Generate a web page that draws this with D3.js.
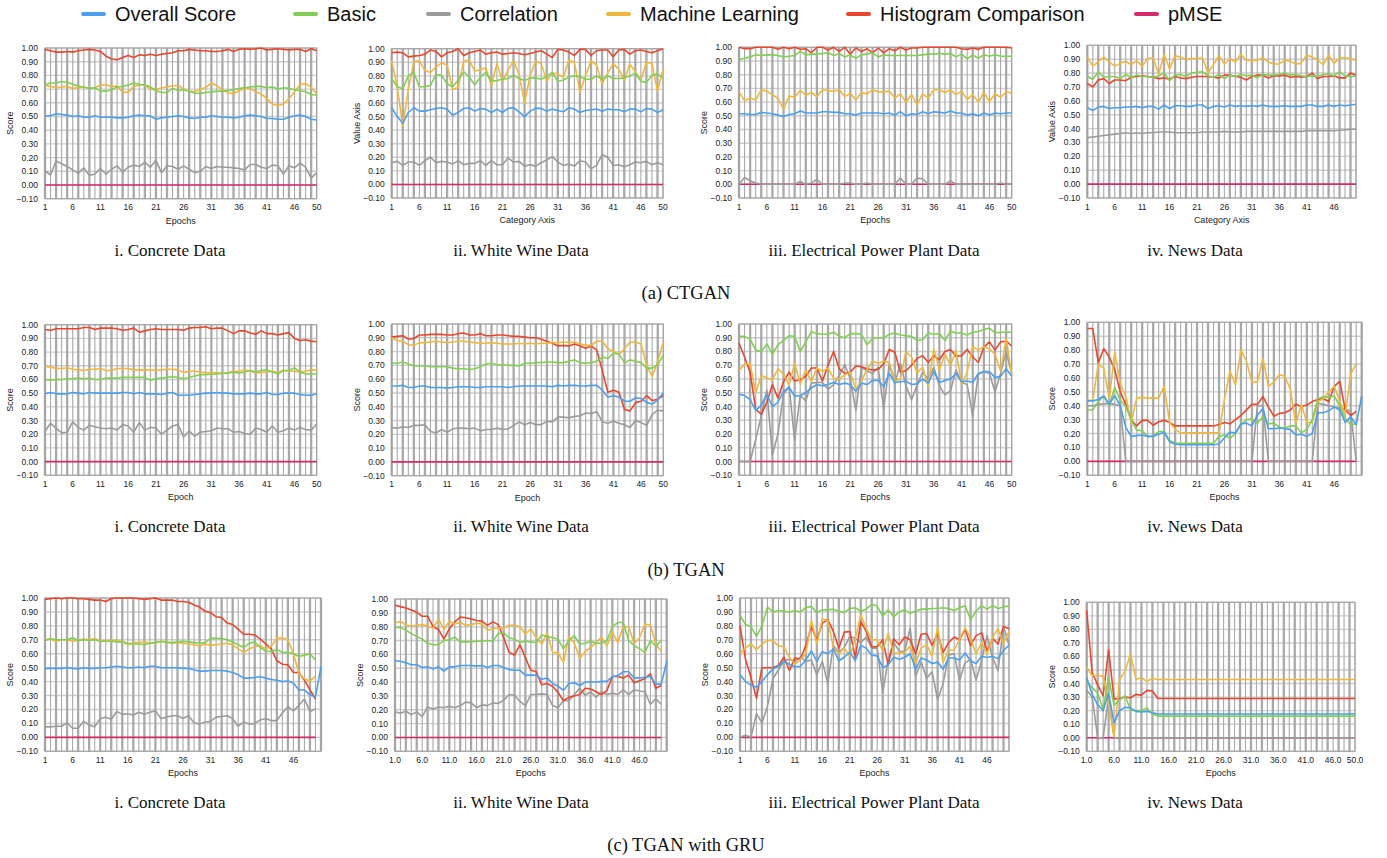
<!DOCTYPE html>
<meta charset="utf-8">
<style>
body { margin: 0; background: #fff; }
svg text { font-family: "Liberation Sans", Arial, Helvetica, sans-serif; fill: #222; }
svg text.serif { font-family: "Liberation Serif", "Times New Roman", serif; fill: #111; }
</style>
<svg width="1387" height="858"></svg>
<script src="https://d3js.org/d3.v7.min.js"></script>
<script>

// ---- legend / series ----
var seriesKeys   = ["overall", "basic", "correlation", "ml", "histogram", "pmse"];
var seriesNames  = ["Overall Score", "Basic", "Correlation", "Machine Learning", "Histogram Comparison", "pMSE"];
var seriesColors = ["#4a9ff0", "#80cf52", "#9b9b9b", "#f0b73c", "#e9462e", "#d42b6b"];
var drawOrder    = ["pmse", "correlation", "histogram", "ml", "basic", "overall"];

var yTicks = [-0.1, 0, 0.1, 0.2, 0.3, 0.4, 0.5, 0.6, 0.7, 0.8, 0.9, 1.0];
var xTickEpochs = [1, 6, 11, 16, 21, 26, 31, 36, 41, 46];

var captions = ["i. Concrete Data", "ii. White Wine Data", "iii. Electrical Power Plant Data", "iv. News Data"];
var groupTitles = ["(a) CTGAN", "(b) TGAN", "(c) TGAN with GRU"];

// ---- data, one object of arrays per panel ----
var ctganConcrete = {
  overall: [0.505,0.505,0.52,0.515,0.51,0.50,0.505,0.495,0.495,0.505,
            0.495,0.495,0.495,0.49,0.49,0.495,0.505,0.51,0.505,0.505,
            0.48,0.49,0.495,0.50,0.505,0.50,0.49,0.485,0.495,0.495,
            0.505,0.50,0.495,0.495,0.49,0.495,0.505,0.51,0.505,0.50,
            0.485,0.485,0.48,0.48,0.495,0.505,0.51,0.50,0.48,0.475],
  basic: [0.73,0.745,0.745,0.755,0.75,0.735,0.72,0.715,0.705,0.71,
          0.685,0.685,0.695,0.715,0.72,0.73,0.745,0.735,0.73,0.715,
          0.69,0.675,0.675,0.705,0.69,0.695,0.685,0.67,0.67,0.675,
          0.68,0.685,0.685,0.69,0.695,0.705,0.71,0.715,0.72,0.72,
          0.71,0.715,0.70,0.71,0.705,0.695,0.69,0.68,0.66,0.655],
  correlation: [0.10,0.075,0.175,0.155,0.135,0.11,0.085,0.125,0.07,0.08,
                0.12,0.08,0.115,0.14,0.095,0.13,0.145,0.135,0.165,0.13,
                0.18,0.09,0.14,0.135,0.115,0.14,0.115,0.09,0.10,0.135,
                0.12,0.135,0.13,0.13,0.125,0.12,0.11,0.15,0.15,0.13,
                0.12,0.145,0.14,0.08,0.14,0.125,0.16,0.13,0.05,0.09],
  ml: [0.725,0.72,0.71,0.715,0.72,0.705,0.71,0.715,0.705,0.71,
       0.73,0.73,0.72,0.72,0.68,0.675,0.72,0.73,0.73,0.70,
       0.695,0.71,0.715,0.725,0.725,0.70,0.685,0.68,0.70,0.71,
       0.745,0.725,0.695,0.675,0.665,0.69,0.705,0.705,0.68,0.665,
       0.63,0.59,0.58,0.59,0.63,0.68,0.735,0.74,0.715,0.665],
  histogram: [0.99,0.98,0.97,0.97,0.975,0.97,0.98,0.985,0.99,0.985,
              0.975,0.94,0.92,0.915,0.93,0.945,0.93,0.95,0.945,0.955,
              0.945,0.955,0.96,0.965,0.98,0.98,0.99,0.985,0.98,0.98,
              0.975,0.975,0.98,0.99,0.975,0.99,0.995,0.99,0.995,1.0,
              0.985,0.99,0.995,0.99,0.985,0.99,0.99,0.975,0.995,0.98],
  pmse: [0,0,0,0,0,0,0,0,0,0, 0,0,0,0,0,0,0,0,0,0, 0,0,0,0,0,0,0,0,0,0, 0,0,0,0,0,0,0,0,0,0, 0,0,0,0,0,0,0,0,0,0]
};

var ctganWine = {
  overall: [0.565,0.50,0.45,0.53,0.565,0.54,0.54,0.55,0.56,0.565,
            0.555,0.51,0.53,0.56,0.565,0.54,0.56,0.555,0.53,0.555,
            0.53,0.56,0.565,0.535,0.50,0.54,0.56,0.56,0.54,0.555,
            0.545,0.535,0.565,0.555,0.53,0.545,0.55,0.555,0.54,0.555,
            0.55,0.55,0.535,0.555,0.555,0.535,0.56,0.555,0.53,0.55],
  basic: [0.78,0.72,0.705,0.80,0.825,0.72,0.72,0.73,0.81,0.805,
          0.74,0.72,0.77,0.83,0.79,0.735,0.79,0.825,0.76,0.765,
          0.775,0.78,0.805,0.78,0.765,0.785,0.785,0.775,0.795,0.825,
          0.76,0.77,0.79,0.80,0.795,0.775,0.775,0.80,0.775,0.80,
          0.78,0.78,0.785,0.80,0.82,0.76,0.75,0.805,0.815,0.785],
  correlation: [0.16,0.17,0.14,0.165,0.165,0.14,0.175,0.20,0.16,0.17,
                0.165,0.15,0.175,0.145,0.155,0.155,0.175,0.14,0.175,0.145,
                0.145,0.195,0.165,0.17,0.135,0.145,0.135,0.16,0.18,0.205,
                0.165,0.14,0.15,0.135,0.175,0.165,0.115,0.14,0.22,0.20,
                0.14,0.145,0.13,0.145,0.165,0.16,0.17,0.145,0.16,0.145],
  ml: [0.91,0.72,0.43,0.70,0.905,0.91,0.84,0.825,0.865,0.895,
       0.88,0.70,0.715,0.91,0.915,0.835,0.845,0.86,0.73,0.89,
       0.76,0.84,0.91,0.81,0.60,0.80,0.91,0.89,0.76,0.82,
       0.815,0.79,0.915,0.90,0.68,0.80,0.91,0.88,0.74,0.82,
       0.89,0.85,0.77,0.885,0.83,0.77,0.90,0.89,0.69,0.845],
  histogram: [0.97,0.975,0.97,0.94,0.945,0.95,0.96,0.99,0.98,0.94,
              0.97,0.98,1.00,0.95,0.97,0.98,0.99,0.96,0.97,0.975,
              0.96,0.965,0.97,0.965,0.955,0.965,0.975,0.985,0.96,0.935,
              0.995,0.99,0.975,0.95,0.995,0.995,0.95,0.985,0.99,0.99,
              0.94,0.99,0.995,0.96,0.985,0.99,0.98,0.97,0.985,1.0],
  pmse: [0,0,0,0,0,0,0,0,0,0, 0,0,0,0,0,0,0,0,0,0, 0,0,0,0,0,0,0,0,0,0, 0,0,0,0,0,0,0,0,0,0, 0,0,0,0,0,0,0,0,0,0]
};

var ctganPower = {
  overall: [0.515,0.515,0.51,0.51,0.525,0.52,0.515,0.505,0.495,0.51,
            0.515,0.535,0.52,0.52,0.52,0.53,0.53,0.525,0.525,0.515,
            0.515,0.505,0.52,0.52,0.52,0.52,0.515,0.52,0.505,0.53,
            0.50,0.515,0.51,0.53,0.515,0.53,0.525,0.52,0.535,0.52,
            0.52,0.505,0.515,0.50,0.52,0.505,0.52,0.515,0.52,0.52],
  basic: [0.91,0.92,0.93,0.945,0.94,0.945,0.945,0.94,0.93,0.935,
          0.94,0.97,0.945,0.95,0.95,0.955,0.96,0.94,0.955,0.93,
          0.945,0.92,0.945,0.95,0.96,0.93,0.945,0.94,0.94,0.94,
          0.94,0.94,0.94,0.945,0.95,0.95,0.955,0.95,0.955,0.93,
          0.95,0.915,0.945,0.92,0.945,0.935,0.945,0.935,0.935,0.935],
  correlation: [0,0.05,0.025,0.01,0,0,0,0,0,0,
                0,0.02,0,0.01,0.035,0,0,0,0,0.01,
                0.01,0,0,0.01,0,0,0,0,0,0.045,
                0,0,0.045,0.04,0,0,0,0,0.025,0,
                0,0,0,0,0,0,0,0.01,0,0],
  ml: [0.675,0.61,0.63,0.615,0.69,0.68,0.655,0.625,0.55,0.645,
       0.635,0.685,0.65,0.67,0.64,0.69,0.685,0.68,0.69,0.64,
       0.665,0.615,0.67,0.66,0.69,0.675,0.675,0.68,0.63,0.66,
       0.60,0.655,0.58,0.66,0.63,0.69,0.69,0.67,0.69,0.655,
       0.68,0.62,0.655,0.60,0.67,0.605,0.66,0.635,0.675,0.665],
  histogram: [1.0,0.99,0.99,1.0,1.0,1.0,1.0,0.985,1.0,0.99,
              1.0,0.985,0.99,0.96,1.0,1.0,0.98,1.0,0.97,1.0,
              0.95,0.995,0.97,0.99,0.96,0.995,0.96,0.99,0.975,1.0,
              0.98,0.995,0.995,1.0,1.0,1.0,1.0,1.0,1.0,1.0,
              0.99,0.985,0.995,0.985,1.0,1.0,1.0,1.0,1.0,0.995],
  pmse: [0,0,0,0,0,0,0,0,0,0, 0,0,0,0,0,0,0,0,0,0, 0,0,0,0,0,0,0,0,0,0, 0,0,0,0,0,0,0,0,0,0, 0,0,0,0,0,0,0,0,0,0]
};

var ctganNews = {
  overall: [0.55,0.53,0.555,0.56,0.545,0.55,0.55,0.555,0.555,0.56,
            0.55,0.56,0.56,0.54,0.57,0.545,0.565,0.565,0.56,0.56,
            0.57,0.57,0.545,0.56,0.565,0.555,0.57,0.56,0.565,0.56,
            0.565,0.56,0.57,0.56,0.56,0.56,0.565,0.56,0.56,0.56,
            0.57,0.57,0.56,0.56,0.57,0.56,0.57,0.565,0.57,0.575],
  basic: [0.775,0.755,0.81,0.77,0.775,0.775,0.76,0.79,0.77,0.785,
          0.775,0.775,0.77,0.78,0.80,0.745,0.785,0.79,0.775,0.80,
          0.805,0.81,0.78,0.77,0.79,0.76,0.785,0.775,0.79,0.78,
          0.785,0.765,0.79,0.785,0.785,0.79,0.80,0.785,0.79,0.78,
          0.775,0.78,0.775,0.79,0.795,0.78,0.81,0.78,0.775,0.78],
  correlation: [0.335,0.34,0.345,0.35,0.355,0.36,0.365,0.37,0.365,0.37,
                0.365,0.37,0.37,0.375,0.375,0.375,0.37,0.37,0.37,0.37,
                0.37,0.375,0.375,0.375,0.375,0.38,0.375,0.375,0.375,0.38,
                0.38,0.38,0.38,0.38,0.38,0.38,0.38,0.38,0.38,0.38,
                0.385,0.385,0.385,0.385,0.385,0.385,0.39,0.39,0.395,0.395],
  ml: [0.915,0.85,0.88,0.915,0.88,0.85,0.87,0.885,0.86,0.89,
       0.85,0.905,0.91,0.79,0.935,0.83,0.925,0.915,0.90,0.905,
       0.905,0.91,0.80,0.86,0.925,0.865,0.905,0.88,0.935,0.89,
       0.89,0.89,0.91,0.88,0.865,0.865,0.895,0.885,0.865,0.87,
       0.93,0.915,0.895,0.86,0.93,0.87,0.91,0.91,0.905,0.89],
  histogram: [0.725,0.70,0.75,0.76,0.725,0.75,0.75,0.745,0.77,0.775,
              0.78,0.775,0.77,0.76,0.765,0.755,0.775,0.765,0.76,0.77,
              0.775,0.775,0.775,0.77,0.765,0.785,0.785,0.775,0.77,0.75,
              0.775,0.785,0.785,0.765,0.78,0.78,0.785,0.77,0.775,0.77,
              0.775,0.80,0.76,0.775,0.775,0.78,0.765,0.765,0.80,0.785],
  pmse: [0,0,0,0,0,0,0,0,0,0, 0,0,0,0,0,0,0,0,0,0, 0,0,0,0,0,0,0,0,0,0, 0,0,0,0,0,0,0,0,0,0, 0,0,0,0,0,0,0,0,0,0]
};

var tganConcrete = {
  overall: [0.495,0.505,0.495,0.495,0.495,0.505,0.50,0.495,0.505,0.50,
            0.50,0.50,0.50,0.50,0.505,0.505,0.495,0.505,0.495,0.495,
            0.495,0.49,0.50,0.505,0.485,0.485,0.485,0.49,0.495,0.50,
            0.50,0.505,0.50,0.50,0.495,0.495,0.495,0.50,0.495,0.495,
            0.505,0.49,0.49,0.50,0.50,0.50,0.49,0.485,0.485,0.495],
  basic: [0.60,0.595,0.60,0.60,0.605,0.605,0.61,0.605,0.61,0.60,
          0.60,0.61,0.61,0.61,0.615,0.615,0.615,0.615,0.615,0.595,
          0.605,0.61,0.615,0.62,0.615,0.605,0.615,0.625,0.635,0.635,
          0.64,0.64,0.645,0.645,0.655,0.645,0.655,0.665,0.655,0.665,
          0.67,0.655,0.64,0.665,0.665,0.685,0.655,0.64,0.64,0.64],
  correlation: [0.22,0.28,0.245,0.21,0.215,0.29,0.25,0.23,0.265,0.255,
                0.245,0.24,0.245,0.23,0.27,0.26,0.215,0.285,0.23,0.25,
                0.245,0.20,0.23,0.26,0.27,0.18,0.225,0.185,0.215,0.22,
                0.225,0.245,0.24,0.24,0.215,0.22,0.205,0.20,0.245,0.235,
                0.215,0.26,0.215,0.225,0.245,0.23,0.25,0.235,0.23,0.275],
  ml: [0.695,0.69,0.68,0.68,0.685,0.675,0.67,0.665,0.675,0.675,
       0.68,0.665,0.665,0.68,0.68,0.68,0.67,0.67,0.67,0.67,
       0.665,0.67,0.675,0.675,0.67,0.65,0.66,0.66,0.655,0.65,
       0.65,0.65,0.645,0.65,0.66,0.66,0.67,0.66,0.65,0.65,
       0.655,0.66,0.65,0.665,0.66,0.66,0.655,0.66,0.67,0.67],
  histogram: [0.965,0.96,0.97,0.97,0.97,0.97,0.97,0.98,0.98,0.965,
              0.975,0.975,0.975,0.97,0.96,0.965,0.975,0.945,0.955,0.965,
              0.97,0.965,0.965,0.965,0.965,0.96,0.975,0.98,0.98,0.985,
              0.97,0.975,0.975,0.955,0.935,0.955,0.955,0.94,0.93,0.955,
              0.935,0.935,0.925,0.935,0.94,0.90,0.885,0.89,0.88,0.875],
  pmse: [0,0,0,0,0,0,0,0,0,0, 0,0,0,0,0,0,0,0,0,0, 0,0,0,0,0,0,0,0,0,0, 0,0,0,0,0,0,0,0,0,0, 0,0,0,0,0,0,0,0,0,0]
};

var tganWine = {
  overall: [0.55,0.55,0.555,0.54,0.54,0.55,0.55,0.54,0.54,0.54,
            0.535,0.54,0.545,0.545,0.545,0.54,0.54,0.545,0.545,0.545,
            0.545,0.54,0.545,0.55,0.55,0.55,0.55,0.55,0.55,0.545,
            0.555,0.55,0.555,0.555,0.55,0.55,0.555,0.555,0.52,0.47,
            0.48,0.47,0.44,0.44,0.465,0.46,0.43,0.42,0.45,0.50],
  basic: [0.715,0.715,0.725,0.71,0.695,0.695,0.695,0.69,0.69,0.69,
          0.69,0.68,0.675,0.675,0.67,0.675,0.69,0.71,0.715,0.705,
          0.705,0.70,0.70,0.695,0.715,0.715,0.72,0.72,0.725,0.725,
          0.72,0.72,0.73,0.74,0.72,0.715,0.72,0.73,0.76,0.75,
          0.79,0.78,0.72,0.74,0.73,0.72,0.68,0.68,0.705,0.775],
  correlation: [0.25,0.245,0.255,0.25,0.265,0.265,0.27,0.22,0.21,0.235,
                0.215,0.24,0.245,0.245,0.24,0.245,0.225,0.235,0.235,0.245,
                0.235,0.24,0.265,0.29,0.27,0.285,0.27,0.27,0.295,0.29,
                0.325,0.325,0.32,0.33,0.335,0.355,0.35,0.365,0.29,0.28,
                0.295,0.28,0.27,0.25,0.30,0.285,0.265,0.345,0.375,0.37],
  ml: [0.90,0.88,0.875,0.85,0.845,0.865,0.865,0.87,0.875,0.87,
       0.865,0.87,0.875,0.875,0.87,0.865,0.86,0.86,0.865,0.86,
       0.855,0.855,0.855,0.86,0.855,0.86,0.855,0.86,0.86,0.865,
       0.865,0.87,0.865,0.87,0.855,0.845,0.845,0.875,0.875,0.82,
       0.80,0.78,0.82,0.87,0.87,0.855,0.70,0.62,0.73,0.87],
  histogram: [0.905,0.91,0.915,0.89,0.895,0.92,0.92,0.925,0.925,0.925,
              0.92,0.92,0.93,0.935,0.92,0.92,0.93,0.915,0.915,0.92,
              0.92,0.915,0.91,0.91,0.905,0.90,0.90,0.89,0.875,0.86,
              0.84,0.845,0.84,0.855,0.84,0.825,0.84,0.81,0.66,0.505,
              0.52,0.505,0.38,0.37,0.43,0.44,0.48,0.445,0.455,0.48],
  pmse: [0,0,0,0,0,0,0,0,0,0, 0,0,0,0,0,0,0,0,0,0, 0,0,0,0,0,0,0,0,0,0, 0,0,0,0,0,0,0,0,0,0, 0,0,0,0,0,0,0,0,0,0]
};

var tganPower = {
  overall: [0.49,0.48,0.45,0.37,0.41,0.49,0.40,0.43,0.51,0.54,
            0.475,0.48,0.50,0.535,0.56,0.55,0.56,0.575,0.56,0.57,
            0.56,0.51,0.57,0.56,0.59,0.59,0.545,0.64,0.575,0.58,
            0.585,0.56,0.565,0.60,0.57,0.655,0.575,0.59,0.60,0.64,
            0.58,0.585,0.575,0.64,0.655,0.655,0.61,0.62,0.675,0.62],
  basic: [0.91,0.91,0.89,0.81,0.80,0.855,0.78,0.85,0.88,0.915,
          0.91,0.80,0.87,0.945,0.93,0.925,0.925,0.94,0.91,0.90,
          0.93,0.93,0.925,0.85,0.895,0.90,0.90,0.925,0.935,0.92,
          0.915,0.91,0.88,0.885,0.935,0.925,0.93,0.88,0.95,0.935,
          0.935,0.92,0.94,0.945,0.96,0.97,0.935,0.94,0.94,0.94],
  correlation: [0,0,0,0.16,0.33,0.52,0.05,0.20,0.49,0.545,
                0.155,0.48,0.44,0.57,0.575,0.575,0.525,0.56,0.625,0.705,
                0.60,0.37,0.685,0.66,0.64,0.685,0.38,0.71,0.565,0.715,
                0.55,0.45,0.555,0.65,0.60,0.685,0.55,0.485,0.515,0.665,
                0.575,0.56,0.33,0.635,0.655,0.64,0.505,0.64,0.80,0.64],
  ml: [0.665,0.705,0.71,0.50,0.625,0.61,0.59,0.675,0.635,0.555,
       0.715,0.565,0.665,0.58,0.68,0.655,0.68,0.605,0.60,0.63,
       0.65,0.525,0.585,0.67,0.73,0.715,0.73,0.72,0.585,0.60,
       0.80,0.76,0.645,0.685,0.545,0.82,0.665,0.78,0.70,0.805,
       0.56,0.65,0.835,0.81,0.835,0.82,0.78,0.66,0.895,0.63],
  histogram: [0.86,0.76,0.65,0.38,0.345,0.43,0.56,0.46,0.58,0.65,
              0.585,0.595,0.62,0.68,0.68,0.585,0.70,0.80,0.675,0.64,
              0.65,0.695,0.69,0.675,0.665,0.67,0.71,0.815,0.795,0.65,
              0.66,0.70,0.75,0.77,0.72,0.77,0.74,0.80,0.815,0.765,
              0.77,0.815,0.76,0.72,0.83,0.87,0.81,0.87,0.875,0.84],
  pmse: [0,0,0,0,0,0,0,0,0,0, 0,0,0,0,0,0,0,0,0,0, 0,0,0,0,0,0,0,0,0,0, 0,0,0,0,0,0,0,0,0,0, 0,0,0,0,0,0,0,0,0,0]
};

var tganNews = {
  overall: [0.435,0.435,0.445,0.47,0.41,0.475,0.40,0.245,0.18,0.185,
            0.19,0.18,0.18,0.195,0.21,0.14,0.125,0.12,0.12,0.12,
            0.12,0.12,0.12,0.12,0.125,0.17,0.21,0.205,0.27,0.275,
            0.255,0.33,0.38,0.235,0.235,0.24,0.235,0.23,0.19,0.195,
            0.18,0.20,0.35,0.35,0.365,0.39,0.37,0.28,0.32,0.265,
            0.47],
  basic: [0.37,0.37,0.43,0.47,0.40,0.53,0.44,0.395,0.30,0.225,
          0.22,0.18,0.18,0.215,0.215,0.15,0.13,0.13,0.13,0.13,
          0.13,0.13,0.13,0.13,0.18,0.19,0.165,0.20,0.265,0.30,
          0.305,0.275,0.32,0.27,0.275,0.245,0.24,0.255,0.255,0.205,
          0.23,0.30,0.45,0.465,0.46,0.47,0.40,0.31,0.265,0.27],
  correlation: [0.40,0.40,0.41,0.415,0.415,0.41,0.40,0,0,0,
                0,0,0,0,0,0,0,0,0,0,
                0,0,0,0,0,0,0,0,0,0,
                0,0.40,0.40,0,0,0,0,0,0,0,
                0,0,0.42,0.41,0.40,0.39,0.385,0.375,0.36,0],
  ml: [0.44,0.44,0.70,0.67,0.45,0.785,0.56,0.47,0.28,0.455,
       0.46,0.455,0.455,0.455,0.54,0.28,0.23,0.205,0.205,0.205,
       0.205,0.205,0.205,0.205,0.205,0.45,0.65,0.55,0.80,0.72,
       0.57,0.57,0.74,0.54,0.57,0.625,0.61,0.52,0.27,0.41,
       0.28,0.28,0.43,0.45,0.50,0.54,0.43,0.34,0.63,0.70],
  histogram: [0.955,0.955,0.71,0.81,0.75,0.66,0.50,0.41,0.30,0.255,
              0.295,0.295,0.26,0.285,0.295,0.28,0.255,0.255,0.255,0.255,
              0.255,0.255,0.255,0.255,0.265,0.28,0.27,0.30,0.33,0.37,
              0.41,0.41,0.465,0.39,0.325,0.345,0.35,0.37,0.41,0.395,
              0.405,0.43,0.445,0.45,0.43,0.54,0.575,0.37,0.33,0.36],
  pmse: [0,0,0,0,0,0,0,0,0,0, 0,0,0,0,0,0,0,0,0,0, 0,0,0,0,0,0,0,0,0,0, 0,0,0,0,0,0,0,0,0,0, 0,0,0,0,0,0,0,0,0,0]
};

var gruConcrete = {
  overall: [0.495,0.495,0.495,0.495,0.50,0.495,0.49,0.50,0.495,0.495,
            0.50,0.50,0.505,0.51,0.505,0.50,0.50,0.505,0.50,0.51,
            0.51,0.50,0.50,0.50,0.50,0.495,0.495,0.485,0.475,0.475,
            0.48,0.48,0.48,0.475,0.465,0.45,0.425,0.425,0.43,0.435,
            0.425,0.415,0.41,0.40,0.405,0.39,0.34,0.34,0.305,0.29,
            0.51],
  basic: [0.695,0.71,0.70,0.70,0.70,0.715,0.695,0.70,0.695,0.70,
          0.69,0.69,0.69,0.685,0.685,0.675,0.67,0.67,0.665,0.675,
          0.68,0.69,0.68,0.68,0.685,0.69,0.685,0.68,0.675,0.68,
          0.71,0.71,0.71,0.70,0.685,0.665,0.645,0.675,0.685,0.645,
          0.62,0.615,0.63,0.61,0.61,0.60,0.58,0.59,0.60,0.555],
  correlation: [0.075,0.075,0.08,0.08,0.105,0.065,0.065,0.115,0.09,0.075,
                0.135,0.145,0.13,0.185,0.165,0.17,0.16,0.18,0.165,0.18,
                0.19,0.135,0.145,0.155,0.155,0.135,0.155,0.105,0.095,0.11,
                0.115,0.145,0.15,0.155,0.135,0.08,0.11,0.095,0.10,0.125,
                0.135,0.12,0.12,0.175,0.22,0.19,0.23,0.275,0.185,0.205],
  ml: [0.70,0.705,0.69,0.70,0.70,0.69,0.695,0.705,0.70,0.71,
       0.69,0.695,0.695,0.695,0.69,0.665,0.68,0.68,0.685,0.675,
       0.675,0.69,0.685,0.675,0.68,0.675,0.67,0.665,0.655,0.67,
       0.66,0.665,0.67,0.675,0.665,0.635,0.61,0.635,0.65,0.66,
       0.635,0.655,0.71,0.715,0.70,0.60,0.46,0.42,0.405,0.44],
  histogram: [0.99,0.995,1.0,0.995,1.0,1.0,0.995,0.995,0.99,0.985,
              0.985,0.975,0.995,1.0,1.0,1.0,1.0,0.995,0.99,0.995,
              1.0,0.985,0.985,0.985,0.975,0.975,0.97,0.95,0.935,0.905,
              0.895,0.865,0.86,0.82,0.81,0.775,0.74,0.74,0.735,0.705,
              0.67,0.635,0.55,0.525,0.52,0.465,0.465,0.41,0.34,0.275],
  pmse: [0,0,0,0,0,0,0,0,0,0, 0,0,0,0,0,0,0,0,0,0, 0,0,0,0,0,0,0,0,0,0, 0,0,0,0,0,0,0,0,0,0, 0,0,0,0,0,0,0,0,0,0]
};

var gruWine = {
  overall: [0.555,0.55,0.54,0.525,0.525,0.505,0.51,0.495,0.51,0.48,
            0.51,0.51,0.52,0.52,0.52,0.515,0.52,0.505,0.52,0.52,
            0.505,0.49,0.485,0.485,0.45,0.45,0.45,0.42,0.43,0.39,
            0.37,0.34,0.39,0.395,0.375,0.40,0.40,0.40,0.405,0.405,
            0.44,0.445,0.475,0.475,0.43,0.43,0.435,0.44,0.385,0.385,
            0.55],
  basic: [0.795,0.795,0.775,0.75,0.73,0.71,0.68,0.67,0.67,0.70,
          0.705,0.725,0.69,0.69,0.69,0.695,0.695,0.70,0.695,0.75,
          0.755,0.72,0.71,0.685,0.695,0.69,0.685,0.74,0.73,0.72,
          0.71,0.64,0.70,0.735,0.675,0.68,0.695,0.68,0.68,0.70,
          0.80,0.83,0.83,0.70,0.665,0.64,0.615,0.70,0.66,0.70],
  correlation: [0.185,0.175,0.19,0.165,0.185,0.15,0.22,0.205,0.22,0.215,
                0.225,0.215,0.23,0.255,0.25,0.215,0.235,0.23,0.25,0.245,
                0.27,0.31,0.305,0.26,0.23,0.31,0.31,0.315,0.31,0.23,
                0.215,0.265,0.265,0.31,0.355,0.305,0.33,0.29,0.33,0.31,
                0.32,0.31,0.345,0.31,0.345,0.335,0.33,0.24,0.28,0.24],
  ml: [0.825,0.84,0.81,0.805,0.81,0.815,0.805,0.79,0.855,0.78,
       0.84,0.82,0.83,0.81,0.815,0.825,0.82,0.775,0.785,0.79,
       0.79,0.81,0.81,0.80,0.745,0.785,0.72,0.675,0.755,0.615,
       0.61,0.545,0.73,0.68,0.57,0.62,0.65,0.685,0.725,0.66,
       0.76,0.685,0.80,0.80,0.68,0.72,0.82,0.81,0.675,0.62],
  histogram: [0.955,0.945,0.935,0.92,0.905,0.875,0.875,0.80,0.78,0.71,
              0.785,0.835,0.87,0.865,0.855,0.845,0.84,0.81,0.835,0.815,
              0.72,0.615,0.595,0.67,0.575,0.485,0.475,0.38,0.39,0.37,
              0.325,0.265,0.29,0.30,0.31,0.355,0.35,0.33,0.31,0.34,
              0.44,0.44,0.43,0.45,0.395,0.41,0.425,0.46,0.355,0.375],
  pmse: [0,0,0,0,0,0,0,0,0,0, 0,0,0,0,0,0,0,0,0,0, 0,0,0,0,0,0,0,0,0,0, 0,0,0,0,0,0,0,0,0,0, 0,0,0,0,0,0,0,0,0,0]
};

var gruPower = {
  overall: [0.45,0.40,0.375,0.36,0.40,0.45,0.49,0.51,0.545,0.525,
            0.505,0.51,0.555,0.62,0.545,0.615,0.60,0.635,0.55,0.575,
            0.61,0.55,0.66,0.64,0.59,0.585,0.50,0.52,0.575,0.56,
            0.575,0.60,0.49,0.57,0.555,0.53,0.54,0.49,0.57,0.57,
            0.555,0.605,0.55,0.53,0.58,0.575,0.58,0.565,0.625,0.66],
  basic: [0.875,0.81,0.795,0.725,0.80,0.935,0.90,0.91,0.905,0.90,
          0.91,0.90,0.93,0.94,0.895,0.915,0.915,0.92,0.905,0.895,
          0.925,0.93,0.905,0.92,0.955,0.94,0.87,0.915,0.865,0.90,
          0.915,0.89,0.905,0.92,0.92,0.925,0.925,0.93,0.925,0.91,
          0.93,0.945,0.845,0.905,0.945,0.92,0.945,0.925,0.935,0.945],
  correlation: [0,0.015,0,0.17,0.105,0.22,0.42,0.485,0.55,0.56,
                0.545,0.575,0.545,0.555,0.45,0.545,0.385,0.66,0.61,0.645,
                0.725,0.71,0.68,0.72,0.64,0.64,0.32,0.56,0.68,0.62,
                0.615,0.785,0.44,0.54,0.425,0.47,0.27,0.385,0.59,0.60,
                0.41,0.535,0.56,0.41,0.55,0.73,0.575,0.48,0.795,0.66],
  ml: [0.605,0.64,0.67,0.63,0.67,0.695,0.695,0.655,0.65,0.575,
       0.525,0.56,0.60,0.84,0.67,0.85,0.84,0.645,0.60,0.64,
       0.58,0.71,0.88,0.78,0.70,0.70,0.62,0.745,0.605,0.605,
       0.61,0.655,0.53,0.64,0.665,0.585,0.79,0.54,0.625,0.625,
       0.705,0.785,0.71,0.60,0.68,0.60,0.715,0.78,0.675,0.76],
  histogram: [0.80,0.56,0.43,0.28,0.50,0.50,0.50,0.515,0.575,0.48,
              0.57,0.56,0.66,0.795,0.70,0.82,0.845,0.76,0.64,0.755,
              0.76,0.57,0.83,0.76,0.65,0.65,0.70,0.52,0.705,0.665,
              0.72,0.70,0.60,0.74,0.745,0.66,0.745,0.61,0.68,0.72,
              0.70,0.775,0.66,0.73,0.75,0.62,0.71,0.67,0.795,0.78],
  pmse: [0,0,0,0,0,0,0,0,0,0, 0,0,0,0,0,0,0,0,0,0, 0,0,0,0,0,0,0,0,0,0, 0,0,0,0,0,0,0,0,0,0, 0,0,0,0,0,0,0,0,0,0]
};

var gruNews = {
  overall: [0.445,0.32,0.245,0.20,0.33,0.11,0.20,0.225,0.22,0.195,
            0.19,0.195,0.185,0.175,0.175,0.175,0.175,0.175,0.175,0.175,
            0.175,0.175,0.175,0.175,0.175,0.175,0.175,0.175,0.175,0.175,
            0.175,0.175,0.175,0.175,0.175,0.175,0.175,0.175,0.175,0.175,
            0.175,0.175,0.175,0.175,0.175,0.175,0.175,0.175,0.175,0.175],
  basic: [0.41,0.37,0.33,0.21,0.445,0.24,0.28,0.31,0.205,0.20,
          0.20,0.22,0.175,0.16,0.16,0.16,0.16,0.16,0.16,0.16,
          0.16,0.16,0.16,0.16,0.16,0.16,0.16,0.16,0.16,0.16,
          0.16,0.16,0.16,0.16,0.16,0.16,0.16,0.16,0.16,0.16,
          0.16,0.16,0.16,0.16,0.16,0.16,0.16,0.16,0.16,0.16],
  correlation: [0.35,0.30,0,0,0.30,0,0,0,0,0, 0,0,0,0,0,0,0,0,0,0, 0,0,0,0,0,0,0,0,0,0, 0,0,0,0,0,0,0,0,0,0, 0,0,0,0,0,0,0,0,0,0],
  ml: [0.52,0.46,0.46,0.455,0.25,0.01,0.43,0.49,0.62,0.43,
       0.445,0.415,0.44,0.43,0.43,0.43,0.43,0.43,0.43,0.43,
       0.43,0.43,0.43,0.43,0.43,0.43,0.43,0.43,0.43,0.43,
       0.43,0.43,0.43,0.43,0.43,0.43,0.43,0.43,0.43,0.43,
       0.43,0.43,0.43,0.43,0.43,0.43,0.43,0.43,0.43,0.43],
  histogram: [0.94,0.48,0.39,0.31,0.65,0.285,0.29,0.30,0.295,0.32,
              0.315,0.35,0.345,0.29,0.29,0.29,0.29,0.29,0.29,0.29,
              0.29,0.29,0.29,0.29,0.29,0.29,0.29,0.29,0.29,0.29,
              0.29,0.29,0.29,0.29,0.29,0.29,0.29,0.29,0.29,0.29,
              0.29,0.29,0.29,0.29,0.29,0.29,0.29,0.29,0.29,0.29],
  pmse: [0,0,0,0,0,0,0,0,0,0, 0,0,0,0,0,0,0,0,0,0, 0,0,0,0,0,0,0,0,0,0, 0,0,0,0,0,0,0,0,0,0, 0,0,0,0,0,0,0,0,0,0]
};

// ---- panel layout ----
var panels = [
  {data: ctganConcrete, x0: 45,     x1: 316.7,  y0: 48,    y1: 198.7, xMax: 50, yTitle: "Score",      xTitle: "Epochs",        dec: 0, fifty: true},
  {data: ctganWine,     x0: 391.7,  x1: 663,    y0: 48.7,  y1: 198,   xMax: 50, yTitle: "Value Axis", xTitle: "Category Axis", dec: 0, fifty: true},
  {data: ctganPower,    x0: 739,    x1: 1011.7, y0: 47.3,  y1: 198,   xMax: 50, yTitle: "Score",      xTitle: "Epochs",        dec: 0, fifty: true},
  {data: ctganNews,     x0: 1087.3, x1: 1356,   y0: 45.3,  y1: 198,   xMax: 50, yTitle: "Value Axis", xTitle: "Category Axis", dec: 0, fifty: false},
  {data: tganConcrete,  x0: 45,     x1: 316.7,  y0: 324.7, y1: 475.3, xMax: 50, yTitle: "Score",      xTitle: "Epoch",         dec: 0, fifty: true},
  {data: tganWine,      x0: 391.7,  x1: 663.3,  y0: 324,   y1: 475.7, xMax: 50, yTitle: "Score",      xTitle: "Epoch",         dec: 0, fifty: true},
  {data: tganPower,     x0: 739,    x1: 1011.7, y0: 324,   y1: 475.3, xMax: 50, yTitle: "Score",      xTitle: "Epochs",        dec: 0, fifty: true},
  {data: tganNews,      x0: 1087.3, x1: 1361.7, y0: 322.3, y1: 475.3, xMax: 51, yTitle: "Score",      xTitle: "Epochs",        dec: 0, fifty: false},
  {data: gruConcrete,   x0: 45,     x1: 321,    y0: 598,   y1: 751.3, xMax: 51, yTitle: "Score",      xTitle: "Epochs",        dec: 0, fifty: false},
  {data: gruWine,       x0: 395,    x1: 666.7,  y0: 599,   y1: 751.3, xMax: 51, yTitle: "Score",      xTitle: "Epochs",        dec: 1, fifty: false},
  {data: gruPower,      x0: 740,    x1: 1009,   y0: 598,   y1: 751.3, xMax: 50, yTitle: "Score",      xTitle: "Epochs",        dec: 0, fifty: false},
  {data: gruNews,       x0: 1086.7, x1: 1355,   y0: 602.3, y1: 751.3, xMax: 50, yTitle: "Score",      xTitle: "Epochs",        dec: 1, fifty: true}
];

var captionX = [170, 521, 874, 1195];
var captionY = [250, 526, 802];
var groupY = [293, 570, 845];

var svg = d3.select("svg");
var color = d3.scaleOrdinal().domain(seriesKeys).range(seriesColors);

panels.forEach(drawPanel);

function drawPanel(p) {
  var x = d3.scaleLinear().domain([1, p.xMax]).range([p.x0, p.x1]);
  var y = d3.scaleLinear().domain([-0.1, 1.0]).range([p.y1, p.y0]);
  var g = svg.append("g");

  // horizontal grid
  g.append("g").selectAll("line").data(yTicks).enter().append("line")
    .attr("x1", p.x0).attr("x2", p.x1)
    .attr("y1", function(d) { return y(d); }).attr("y2", function(d) { return y(d); })
    .attr("stroke", "#cfcfcf").attr("stroke-width", 1.4);

  // vertical category lines (one per epoch)
  g.append("g").selectAll("line").data(d3.range(1, Math.floor(p.xMax) + 1)).enter().append("line")
    .attr("x1", function(d) { return x(d); }).attr("x2", function(d) { return x(d); })
    .attr("y1", p.y0).attr("y2", p.y1)
    .attr("stroke", "#a9a9a9")
    .attr("stroke-width", function(d, i) { return i % 2 ? 1.1 : 2.3; });

  g.append("rect")
    .attr("x", p.x0).attr("y", p.y0)
    .attr("width", p.x1 - p.x0).attr("height", p.y1 - p.y0)
    .attr("fill", "none").attr("stroke", "#a0a0a0").attr("stroke-width", 1);

  // y tick labels
  g.append("g").selectAll("text").data(yTicks).enter().append("text")
    .attr("x", p.x0 - 7).attr("y", function(d) { return y(d); })
    .attr("dy", "0.35em").attr("text-anchor", "end")
    .style("font-size", "8.5px")
    .text(function(d) { return d3.format(".2f")(d); });

  // x tick labels
  var xt = xTickEpochs.slice();
  if (p.fifty) xt.push(50);
  g.append("g").selectAll("text").data(xt).enter().append("text")
    .attr("x", function(d) { return x(d); }).attr("y", p.y1 + 11.5)
    .attr("text-anchor", "middle")
    .style("font-size", "8.5px")
    .text(function(d) { return d3.format("." + p.dec + "f")(d); });

  g.append("text")
    .attr("x", (p.x0 + p.x1) / 2).attr("y", p.y1 + 25)
    .attr("text-anchor", "middle").style("font-size", "9px")
    .text(p.xTitle);

  g.append("text")
    .attr("transform", "translate(" + (p.x0 - 35) + "," + ((p.y0 + p.y1) / 2) + ") rotate(-90)")
    .attr("dy", "0.35em")
    .attr("text-anchor", "middle").style("font-size", "9px")
    .text(p.yTitle);

  var line = d3.line()
    .x(function(d, i) { return x(i + 1); })
    .y(function(d) { return y(d); });

  drawOrder.forEach(function(k) {
    g.append("path")
      .datum(p.data[k])
      .attr("fill", "none")
      .attr("stroke", color(k))
      .attr("stroke-width", 1.6)
      .attr("stroke-linejoin", "round")
      .attr("d", line);
  });
}

// captions
captionY.forEach(function(cy, r) {
  captions.forEach(function(c, i) {
    svg.append("text").attr("class", "serif")
      .attr("x", captionX[i]).attr("y", cy).attr("dy", "0.35em")
      .attr("text-anchor", "middle").style("font-size", "17px")
      .text(c);
  });
  svg.append("text").attr("class", "serif")
    .attr("x", 686).attr("y", groupY[r]).attr("dy", "0.35em")
    .attr("text-anchor", "middle").style("font-size", "18.5px")
    .text(groupTitles[r]);
});

// legend
var legendX = [115, 327, 460, 640, 880, 1168];
var legend = svg.append("g").selectAll("g").data(seriesKeys).enter().append("g")
  .attr("transform", function(d, i) { return "translate(" + legendX[i] + ",14)"; });
legend.append("line")
  .attr("x1", -32).attr("x2", -11).attr("y1", 0).attr("y2", 0)
  .attr("stroke", function(d) { return color(d); })
  .attr("stroke-width", 4).attr("stroke-linecap", "round");
legend.append("text")
  .attr("dy", "0.35em").style("font-size", "20px").style("fill", "#111")
  .text(function(d, i) { return seriesNames[i]; });

</script>
